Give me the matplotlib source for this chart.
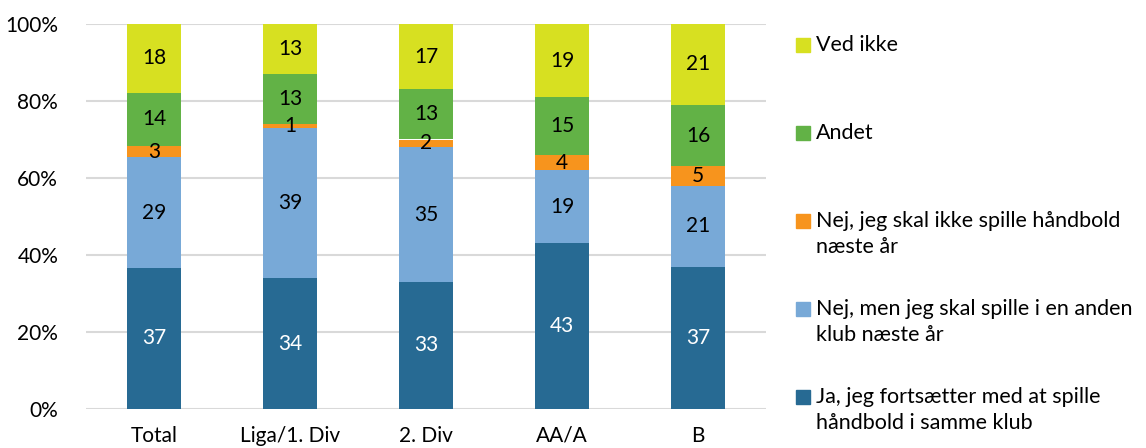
import matplotlib
matplotlib.use("Agg")
import matplotlib.pyplot as plt
from matplotlib.patches import Rectangle
import numpy as np

plt.rcParams['font.family'] = ['Lato', 'DejaVu Sans']

categories = ["Total", "Liga/1. Div", "2. Div", "AA/A", "B"]
series_names = [
    "Ja, jeg fortsætter med at spille\nhåndbold i samme klub",
    "Nej, men jeg skal spille i en anden\nklub næste år",
    "Nej, jeg skal ikke spille håndbold\nnæste år",
    "Andet",
    "Ved ikke",
]
ja_samme = [37, 34, 33, 43, 37]
nej_anden = [29, 39, 35, 19, 21]
nej_ikke = [3, 1, 2, 4, 5]
andet = [14, 13, 13, 15, 16]
ved_ikke = [18, 13, 17, 19, 21]
series = [ja_samme, nej_anden, nej_ikke, andet, ved_ikke]
colors = ["#276A93", "#78A9D7", "#F7941D", "#62B246", "#D7E021"]
label_colors = ["white", "black", "black", "black", "black"]
yticks = [0, 20, 40, 60, 80, 100]

data = np.array(series, dtype=float)
totals = data.sum(axis=0)
shares = data / totals * 100  # 100% stacked

fig = plt.figure(figsize=(11.46, 4.48), dpi=100)
ax = fig.add_axes([86/1146, 1-409/448, 680/1146, 385/448])

x = np.arange(len(categories))
bottom = np.zeros(len(categories))
for raw, vals, c, lc in zip(data, shares, colors, label_colors):
    ax.bar(x, vals, bottom=bottom, width=0.4, color=c, zorder=3)
    for xi, b, v, r in zip(x, bottom, vals, raw):
        ax.text(xi, b + v/2, f"{int(r)}", ha='center', va='center',
                fontsize=15, color=lc, zorder=4)
    bottom += vals

ax.set_xlim(-0.5, len(categories) - 0.5)
ax.set_ylim(0, 100)
ax.set_yticks(yticks)
ax.set_yticklabels([f"{t}%" for t in yticks], fontsize=15)
ax.set_xticks(x)
ax.set_xticklabels(categories, fontsize=15)
ax.tick_params(axis='both', length=0)
ax.tick_params(axis='y', pad=20)
ax.tick_params(axis='x', pad=12)
for s in ax.spines.values():
    s.set_visible(False)
ax.yaxis.grid(True, color="#D9D9D9", linewidth=1.5, zorder=0)
ax.set_axisbelow(True)

# legend (reverse order, top to bottom)
leg_y = [45, 133, 221, 309, 397]
for i, yy in enumerate(leg_y):
    idx = len(series) - 1 - i
    fig.patches.append(Rectangle((796/1146, 1-(yy+7)/448), 14/1146, 14/448,
                                 transform=fig.transFigure, color=colors[idx]))
    fig.text(816/1146, 1-(yy-10)/448, series_names[idx], ha='left', va='top',
             fontsize=15.5, linespacing=1.4)

fig.savefig("out.png", dpi=100)
